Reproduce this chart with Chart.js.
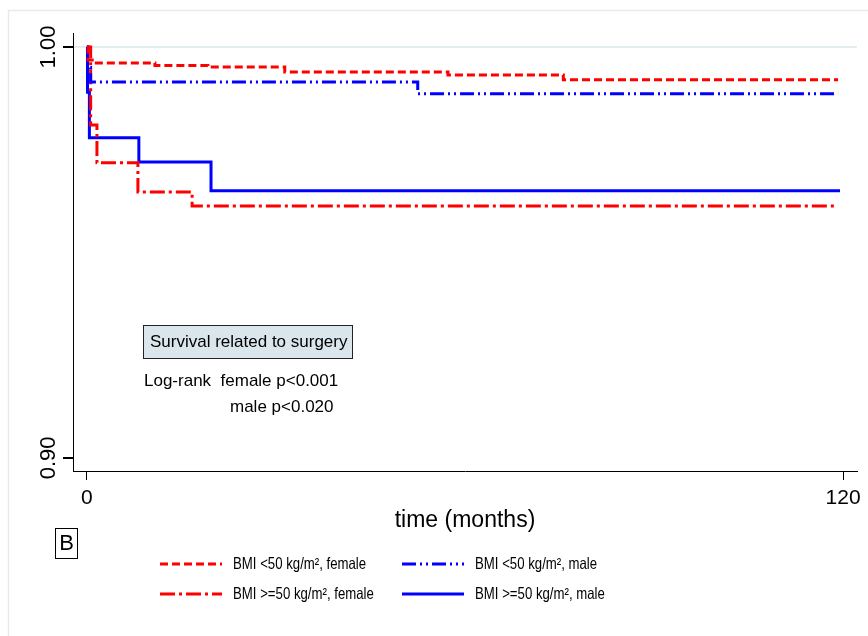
<!DOCTYPE html>
<html>
<head>
<meta charset="utf-8">
<script src="https://cdn.jsdelivr.net/npm/chart.js@4/dist/chart.umd.min.js"></script>
<style>
  html, body { margin: 0; padding: 0; background: #fff; }
  canvas { display: block; }
</style>
</head>
<body>
<canvas id="km" width="868" height="636"></canvas>
<script>
// Kaplan-Meier estimates (time in months, survival)
const femaleLowT  = [0, 0.2, 1.5, 10.8, 19.2, 31.4, 57.3, 75.6, 119.2];
const femaleLowS  = [1.0, 0.9968, 0.9961, 0.9955, 0.9951, 0.9939, 0.9932, 0.9920, 0.9920];

const maleLowT    = [0, 0.1, 0.6, 52.5, 119.2];
const maleLowS    = [1.0, 0.995, 0.9915, 0.9886, 0.9886];

const femaleHighT = [0, 0.6, 1.6, 8.1, 16.7, 118.9];
const femaleHighS = [1.0, 0.981, 0.9718, 0.9647, 0.9613, 0.9613];

const maleHighT   = [0, 0.1, 0.4, 8.25, 19.7, 119.5];
const maleHighS   = [1.0, 0.989, 0.9779, 0.9720, 0.9650, 0.9650];

const seriesLabels = [
    'BMI <50 kg/m², female',
    'BMI <50 kg/m², male',
    'BMI >=50 kg/m², female',
    'BMI >=50 kg/m², male'
];
const xTicks = [0, 120];
const yTicks = [0.90, 1.00];

const FONT = '"Liberation Sans", Arial, Helvetica, sans-serif';

function pts(t, s) {
    return t.map((v, i) => ({ x: v, y: s[i] }));
}

// extra drawing: frame, rotated y labels, annotation, panel letter, legend
const decorPlugin = {
    id: 'decor',
    beforeDraw(chart) {
        const ctx = chart.ctx;
        ctx.save();
        ctx.strokeStyle = '#e3ebee';
        ctx.lineWidth = 1.5;
        ctx.beginPath();
        ctx.moveTo(8.5, 636);
        ctx.lineTo(8.5, 10.5);
        ctx.lineTo(868, 10.5);
        ctx.stroke();
        ctx.restore();
    },
    afterDraw(chart) {
        const ctx = chart.ctx;
        const yScale = chart.scales.y;
        ctx.save();

        // y tick labels, rotated
        ctx.fillStyle = '#000';
        ctx.font = '22px ' + FONT;
        ctx.textAlign = 'center';
        ctx.textBaseline = 'alphabetic';
        yTicks.forEach(v => {
            const py = yScale.getPixelForValue(v);
            ctx.save();
            ctx.translate(55, py);
            ctx.rotate(-Math.PI / 2);
            ctx.fillText(v.toFixed(2), 0, 0);
            ctx.restore();
        });

        // annotation box
        ctx.fillStyle = '#dae6ec';
        ctx.fillRect(143, 325, 209, 33);
        ctx.strokeStyle = '#222';
        ctx.lineWidth = 1;
        ctx.strokeRect(143.5, 325.5, 209, 33);
        ctx.fillStyle = '#000';
        ctx.font = '17px ' + FONT;
        ctx.textAlign = 'left';
        ctx.textBaseline = 'middle';
        ctx.fillText('Survival related to surgery', 150, 342);
        ctx.fillText('Log-rank  female p<0.001', 144, 381);
        ctx.fillText('male p<0.020', 230, 407);

        // panel letter
        ctx.strokeStyle = '#000';
        ctx.strokeRect(55.5, 528.5, 22, 30);
        ctx.font = '22px ' + FONT;
        ctx.textAlign = 'center';
        ctx.fillText('B', 66.5, 544);

        // legend
        const slots = [
            { x: 160, y: 564 },
            { x: 402, y: 564 },
            { x: 160, y: 594 },
            { x: 402, y: 594 }
        ];
        chart.data.datasets.forEach((ds, i) => {
            const s = slots[i];
            ctx.save();
            ctx.strokeStyle = ds.borderColor;
            ctx.lineWidth = ds.borderWidth;
            ctx.setLineDash(ds.borderDash || []);
            ctx.beginPath();
            ctx.moveTo(s.x, s.y);
            ctx.lineTo(s.x + 62, s.y);
            ctx.stroke();
            ctx.restore();
            // legend text is condensed in the original
            ctx.save();
            ctx.translate(s.x + 73, s.y);
            ctx.scale(0.8, 1);
            ctx.fillStyle = '#000';
            ctx.font = '16.5px ' + FONT;
            ctx.textAlign = 'left';
            ctx.textBaseline = 'middle';
            ctx.fillText(ds.label, 0, 0);
            ctx.restore();
        });
        ctx.restore();
    }
};

new Chart(document.getElementById('km'), {
    type: 'line',
    data: {
        datasets: [
            {
                label: seriesLabels[0],
                data: pts(femaleLowT, femaleLowS),
                borderColor: '#ff0000',
                borderWidth: 3,
                borderDash: [8, 4]
            },
            {
                label: seriesLabels[1],
                data: pts(maleLowT, maleLowS),
                borderColor: '#0000ff',
                borderWidth: 3,
                borderDash: [14, 4, 2, 4, 2, 4]
            },
            {
                label: seriesLabels[2],
                data: pts(femaleHighT, femaleHighS),
                borderColor: '#ff0000',
                borderWidth: 3,
                borderDash: [15, 4, 3, 4]
            },
            {
                label: seriesLabels[3],
                data: pts(maleHighT, maleHighS),
                borderColor: '#0000ff',
                borderWidth: 3,
                borderDash: []
            }
        ]
    },
    options: {
        responsive: false,
        animation: false,
        layout: { padding: { top: 33, right: 11, left: 0, bottom: 0 } },
        datasets: { line: { stepped: true, pointRadius: 0, pointHoverRadius: 0, fill: false } },
        plugins: {
            legend: { display: false },
            tooltip: { enabled: false }
        },
        scales: {
            x: {
                type: 'linear',
                min: -2.2,
                max: 122.2,
                afterBuildTicks: s => { s.ticks = xTicks.map(v => ({ value: v })); },
                afterFit: s => { s.height = 165; },
                ticks: {
                    color: '#000',
                    font: { family: FONT, size: 21 },
                    padding: 6,
                    maxRotation: 0,
                    callback: v => String(v)
                },
                grid: {
                    drawOnChartArea: false,
                    tickLength: 9,
                    tickColor: '#000'
                },
                border: { display: true, color: '#000', width: 1 },
                title: {
                    display: true,
                    text: 'time (months)',
                    color: '#000',
                    font: { family: FONT, size: 23 },
                    padding: { top: 0, bottom: 102 }
                }
            },
            y: {
                type: 'linear',
                min: 0.8968,
                max: 1.0034,
                afterBuildTicks: s => { s.ticks = yTicks.map(v => ({ value: v })); },
                afterFit: s => { s.width = 73; },
                ticks: { display: false },
                grid: {
                    color: c => (c.tick && c.tick.value === 1) ? '#e4eef1' : 'rgba(0,0,0,0)',
                    lineWidth: 2,
                    tickLength: 10,
                    tickColor: '#000'
                },
                border: { display: true, color: '#000', width: 1 }
            }
        }
    },
    plugins: [decorPlugin]
});
</script>
</body>
</html>
